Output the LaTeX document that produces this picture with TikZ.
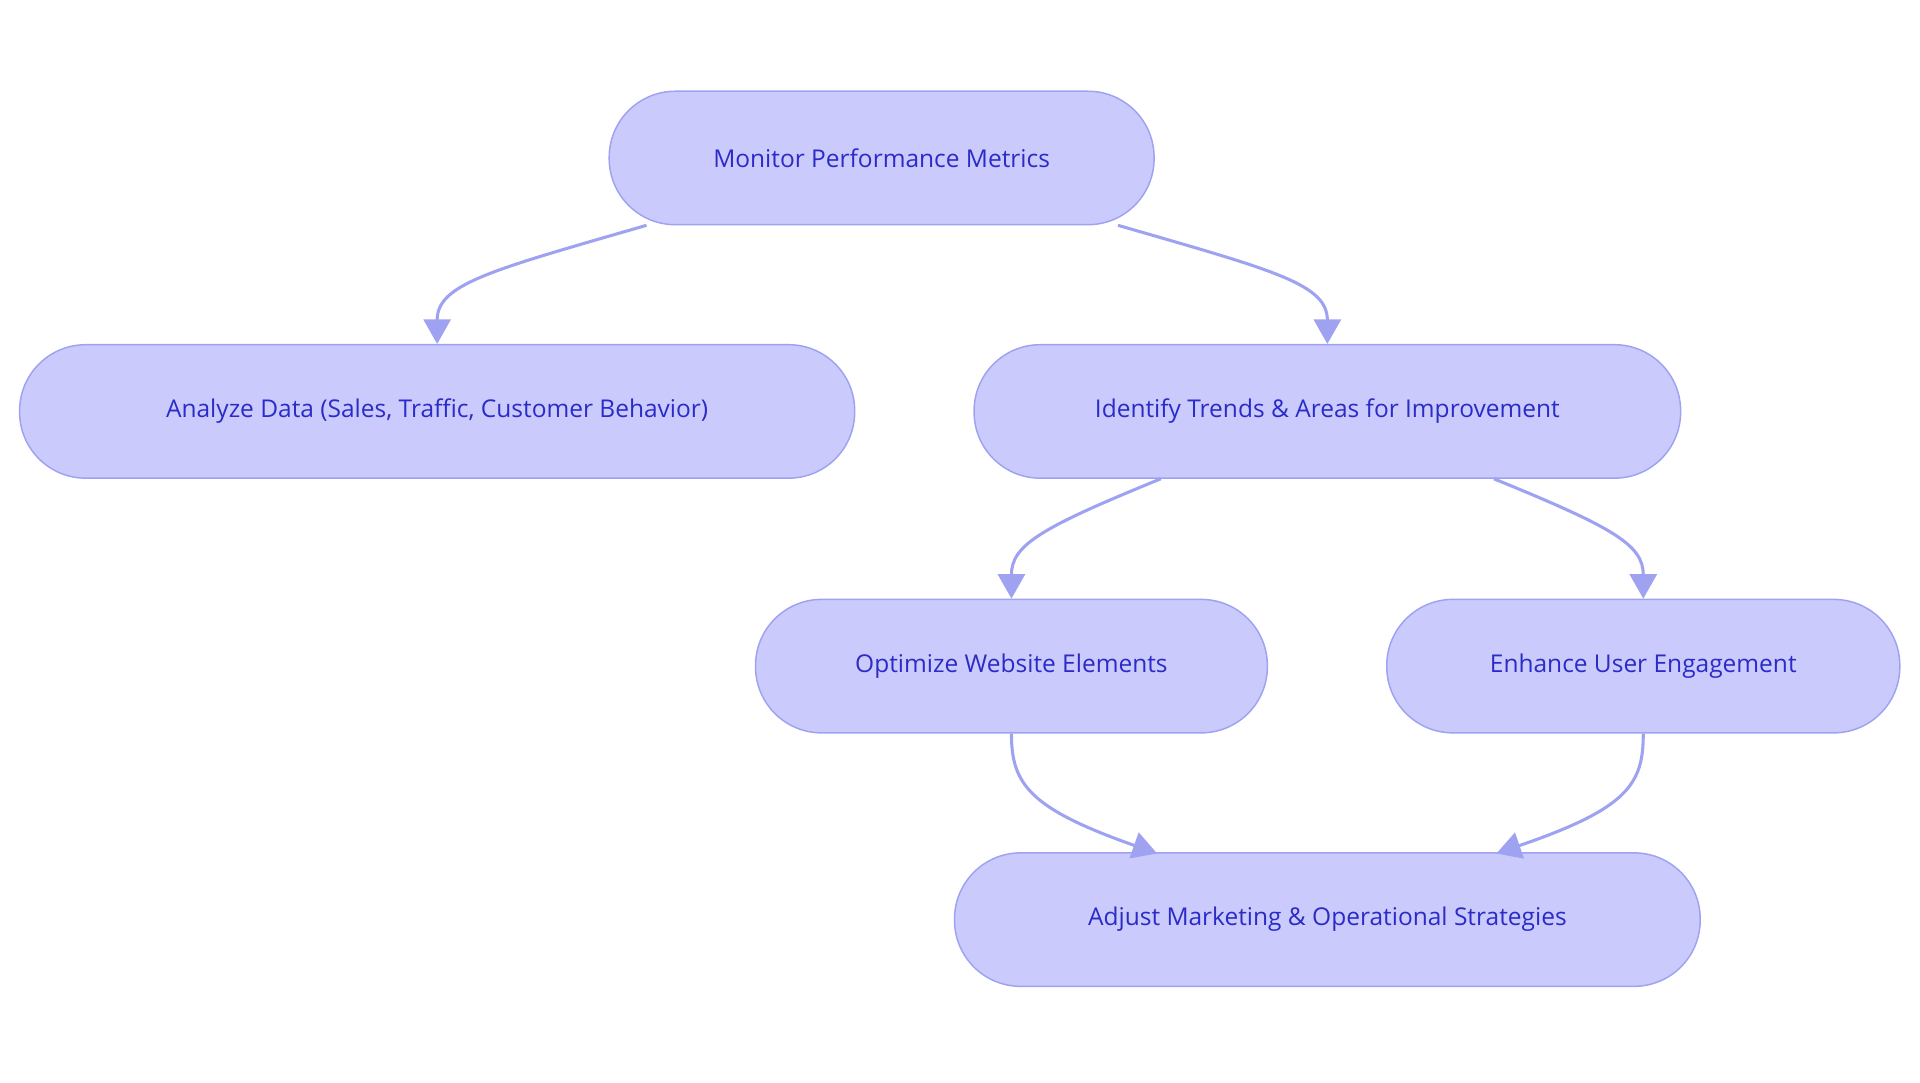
\documentclass[tikz,border=0pt]{standalone}
\usepackage{fontspec}
\setmainfont{Open Sans}
\usetikzlibrary{arrows.meta}
\definecolor{nf}{HTML}{CACBFC}
\definecolor{nd}{HTML}{9FA2F0}
\definecolor{nt}{HTML}{2B2BC8}
\begin{document}
\begin{tikzpicture}[x=1pt,y=-1pt,
  box/.style={draw=nd,line width=1.2pt,fill=nf,rounded corners=54pt,minimum height=109pt,text=nt,font=\fontsize{20}{24}\selectfont,inner sep=0pt},
  arr/.style={draw=nd,line width=2.5pt,-{Triangle[length=20pt,width=22pt]}}]
\useasboundingbox (0,0) rectangle (1568,884);
\node[box,minimum width=445pt] (a) at (720,129) {Monitor Performance Metrics};
\node[box,minimum width=682pt] (b) at (357,336) {Analyze Data (Sales, Traffic, Customer Behavior)};
\node[box,minimum width=577pt] (c) at (1084,336) {Identify Trends \& Areas for Improvement};
\node[box,minimum width=418pt] (d) at (826,544) {Optimize Website Elements};
\node[box,minimum width=419pt] (e) at (1342,544) {Enhance User Engagement};
\node[box,minimum width=609pt] (f) at (1084,751) {Adjust Marketing \& Operational Strategies};
\draw[arr] (528,184) .. controls (400,221) and (357,232) .. (b.north);
\draw[arr] (913,184) .. controls (1041,221) and (1084,232) .. (c.north);
\draw[arr] (948,391) .. controls (850,431) and (826,445) .. (d.north);
\draw[arr] (1220,391) .. controls (1318,431) and (1342,445) .. (e.north);
\draw[arr] (d.south) .. controls (826,640) and (840,660) .. (945,697);
\draw[arr] (e.south) .. controls (1342,640) and (1330,660) .. (1222,697);
\end{tikzpicture}
\end{document}
